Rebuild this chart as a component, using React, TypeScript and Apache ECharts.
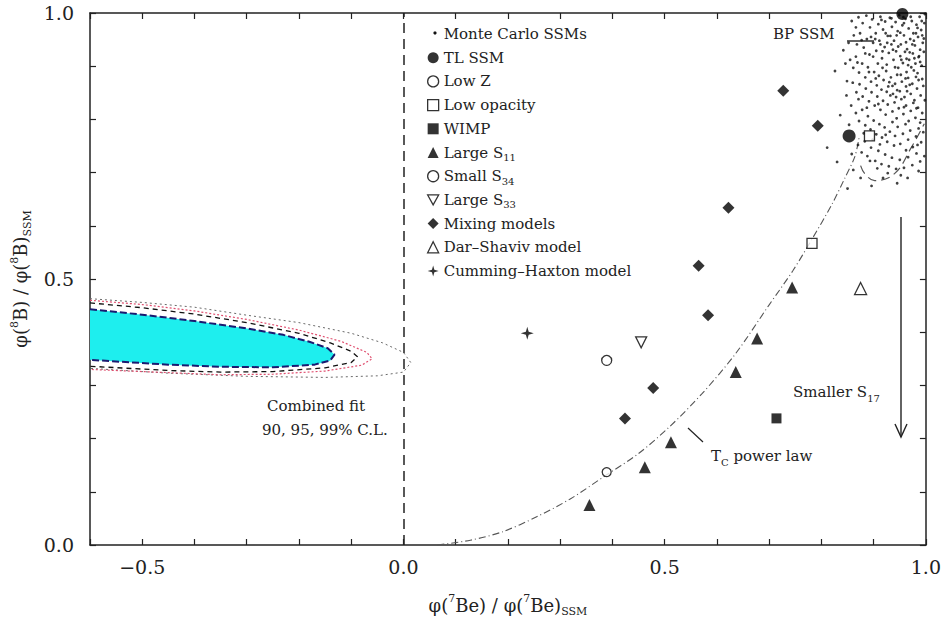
import React, { useEffect, useRef } from "react";
import * as echarts from "echarts";

// ---------- data ----------
const xTickLabels = ["−0.5", "0.0", "0.5", "1.0"];
const yTickLabels = ["0.0", "0.5", "1.0"];

const monteCarlo: number[][] = [
  [0.871,0.992],[0.879,0.981],[0.886,0.995],[0.893,0.973],[0.897,0.988],[0.904,0.962],[0.909,0.979],[0.913,0.993],[0.918,0.969],[0.922,0.984],[0.927,0.957],[0.931,0.991],[0.935,0.974],[0.939,0.948],[0.942,0.983],[0.946,0.966],[0.949,0.996],[0.952,0.941],[0.955,0.977],[0.958,0.958],[0.961,0.989],[0.964,0.932],[0.967,0.971],[0.97,0.951],[0.973,0.985],[0.976,0.962],[0.979,0.939],[0.982,0.978],[0.985,0.955],[0.988,0.993],[0.991,0.968],[0.994,0.944],[0.997,0.981],
  [0.862,0.958],[0.868,0.941],[0.874,0.962],[0.881,0.935],[0.887,0.951],[0.892,0.922],[0.899,0.944],[0.905,0.929],[0.911,0.948],[0.916,0.915],[0.921,0.936],[0.925,0.903],[0.929,0.925],[0.934,0.941],[0.938,0.912],[0.943,0.928],[0.947,0.897],[0.951,0.919],[0.956,0.906],[0.96,0.927],[0.963,0.889],[0.968,0.912],[0.972,0.898],[0.975,0.924],[0.98,0.905],[0.984,0.887],[0.987,0.919],[0.992,0.901],[0.996,0.927],
  [0.855,0.912],[0.861,0.897],[0.866,0.918],[0.872,0.888],[0.878,0.905],[0.884,0.879],[0.889,0.898],[0.895,0.871],[0.901,0.889],[0.906,0.864],[0.91,0.882],[0.915,0.856],[0.919,0.874],[0.924,0.891],[0.928,0.862],[0.933,0.879],[0.937,0.848],[0.941,0.867],[0.945,0.884],[0.95,0.853],[0.954,0.871],[0.959,0.842],[0.962,0.862],[0.966,0.878],[0.971,0.848],[0.974,0.867],[0.978,0.836],[0.983,0.858],[0.986,0.874],[0.99,0.845],[0.995,0.863],
  [0.86,0.869],[0.867,0.851],[0.873,0.866],[0.879,0.843],[0.885,0.858],[0.891,0.834],[0.896,0.851],[0.902,0.826],[0.907,0.843],[0.913,0.818],[0.918,0.835],[0.923,0.809],[0.927,0.828],[0.932,0.845],[0.936,0.815],[0.94,0.832],[0.944,0.802],[0.948,0.821],[0.953,0.838],[0.957,0.81],[0.962,0.826],[0.967,0.797],[0.971,0.816],[0.976,0.831],[0.98,0.803],[0.985,0.822],[0.989,0.794],[0.993,0.812],
  [0.866,0.812],[0.872,0.797],[0.878,0.818],[0.884,0.789],[0.889,0.806],[0.894,0.781],[0.9,0.798],[0.905,0.772],[0.911,0.791],[0.916,0.766],[0.921,0.785],[0.926,0.758],[0.931,0.777],[0.936,0.795],[0.941,0.769],[0.946,0.786],[0.951,0.754],[0.956,0.773],[0.961,0.791],[0.966,0.762],[0.97,0.779],[0.975,0.748],[0.981,0.768],[0.986,0.783],[0.991,0.757],[0.995,0.776],
  [0.87,0.752],[0.877,0.738],[0.883,0.759],[0.888,0.731],[0.895,0.747],[0.903,0.722],[0.909,0.741],[0.915,0.716],[0.922,0.734],[0.929,0.712],[0.935,0.728],[0.943,0.707],[0.95,0.724],[0.958,0.709],[0.966,0.729],[0.974,0.714],[0.982,0.736],[0.989,0.721],
  [0.826,0.891],[0.811,0.747],[0.83,0.72],[0.85,0.67],[0.842,0.93],[0.848,0.845],[0.853,0.79],[0.858,0.735],[0.875,0.69],[0.896,0.675],[0.918,0.69],[0.945,0.68],[0.836,0.808],[0.861,0.705],
  [0.934,0.99],[0.944,0.958],[0.957,0.992],[0.962,0.945],[0.971,0.993],[0.977,0.948],[0.984,0.972],[0.989,0.931],[0.993,0.958],[0.998,0.998],[0.953,0.912],[0.966,0.902],[0.978,0.915],[0.989,0.908],[0.941,0.898],[0.926,0.944],[0.917,0.928],[0.908,0.905],[0.899,0.918],[0.93,0.87],[0.945,0.855],[0.969,0.865],[0.981,0.88],[0.961,0.877],
  [0.903,0.951],[0.915,0.987],[0.923,0.962],[0.937,0.931],[0.951,0.963],[0.963,0.914],[0.974,0.941],[0.986,0.917],[0.996,0.952],[0.958,0.981],[0.969,0.926],[0.981,0.962],[0.992,0.985],[0.947,0.937],[0.932,0.957],[0.913,0.941],[0.895,0.955],[0.884,0.924],[0.877,0.949],[0.866,0.973],[0.858,0.985],[0.852,0.944],[0.846,0.905],[0.869,0.907],[0.891,0.889],[0.904,0.877],[0.917,0.897],[0.936,0.863],[0.952,0.884],[0.964,0.853],[0.977,0.892],[0.993,0.876],[0.998,0.836],[0.982,0.821],[0.958,0.823],[0.943,0.842],[0.925,0.852],[0.909,0.829],[0.887,0.822],[0.871,0.838],[0.857,0.826],[0.849,0.872],[0.881,0.774],[0.898,0.762],[0.923,0.771],[0.939,0.751],[0.962,0.742],[0.984,0.752],[0.997,0.731],[0.912,0.753],[0.893,0.722],[0.952,0.695],[0.986,0.703],[0.927,0.699],[0.907,0.708],[0.965,0.69],
];
const bpSSM: number[][] = [[0.955, 0.998]];
const tlSSM: number[][] = [[0.853, 0.769]];
const lowZ: number[][] = [[0.389, 0.347]];
const lowOpacity: number[][] = [[0.782, 0.567], [0.892, 0.769]];
const wimp: number[][] = [[0.714, 0.238]];
const largeS11: number[][] = [[0.356, 0.075], [0.462, 0.146], [0.512, 0.193], [0.636, 0.325], [0.677, 0.388], [0.744, 0.484]];
const smallS34: number[][] = [[0.389, 0.137]];
const largeS33: number[][] = [[0.455, 0.381]];
const mixing: number[][] = [[0.424, 0.238], [0.478, 0.295], [0.583, 0.432], [0.565, 0.525], [0.622, 0.634], [0.727, 0.854], [0.793, 0.788]];
const darShaviv: number[][] = [[0.875, 0.482]];
const cummingHaxton: number[][] = [[0.237, 0.398]];

const powerLaw: number[][] = [
  [0.065, 0.0], [0.128, 0.009], [0.19, 0.025], [0.255, 0.053], [0.32, 0.087], [0.383, 0.128], [0.45, 0.172],
  [0.509, 0.222], [0.572, 0.285], [0.636, 0.36], [0.699, 0.45], [0.745, 0.515],
  [0.782, 0.575], [0.82, 0.64], [0.845, 0.69], [0.864, 0.73], [0.872, 0.765],
];
const hookCurve: number[][] = [[0.875, 0.713], [0.883, 0.698], [0.902, 0.685], [0.94, 0.698], [0.972, 0.747], [0.997, 0.792]];

const cl90: number[][] = [[-0.6,0.443],[-0.5,0.433],[-0.4,0.421],[-0.3,0.407],[-0.23,0.395],[-0.18,0.382],[-0.145,0.37],[-0.132,0.358],[-0.14,0.347],[-0.17,0.339],[-0.25,0.334],[-0.35,0.335],[-0.45,0.339],[-0.6,0.348]];
const cl95: number[][] = [[-0.6,0.455],[-0.5,0.446],[-0.4,0.434],[-0.3,0.418],[-0.2,0.398],[-0.14,0.38],[-0.1,0.364],[-0.088,0.354],[-0.1,0.343],[-0.15,0.333],[-0.25,0.326],[-0.35,0.325],[-0.45,0.328],[-0.6,0.336]];
const cl99a: number[][] = [[-0.6,0.46],[-0.5,0.452],[-0.4,0.44],[-0.3,0.424],[-0.2,0.404],[-0.12,0.383],[-0.07,0.362],[-0.06,0.35],[-0.08,0.338],[-0.15,0.327],[-0.25,0.321],[-0.35,0.32],[-0.45,0.324],[-0.6,0.33]];
const cl99: number[][] = [[-0.6,0.463],[-0.5,0.456],[-0.4,0.447],[-0.3,0.432],[-0.2,0.418],[-0.1,0.398],[-0.04,0.38],[0.0,0.362],[0.014,0.343],[0.0,0.325],[-0.05,0.318],[-0.15,0.315],[-0.3,0.317],[-0.45,0.323],[-0.6,0.332]];

const FONT = "DejaVu Serif";
const STAR = "path://M0,-6 L1.3,-1.3 L6,0 L1.3,1.3 L0,6 L-1.3,1.3 L-6,0 L-1.3,-1.3 Z";
const DOWN_TRI = "path://M0,0 L10,0 L5,9 Z";

const legendNames = [
  "Monte Carlo SSMs", "TL SSM", "Low Z", "Low opacity", "WIMP", "Large S11",
  "Small S34", "Large S33", "Mixing models", "Dar–Shaviv model", "Cumming–Haxton model",
];
const legendRich: Record<string, string> = {
  "Large S11": "Large S{sub|11}",
  "Small S34": "Small S{sub|34}",
  "Large S33": "Large S{sub|33}",
};

function tickFmt(labels: string[]) {
  return (v: number) => {
    const r = Math.round(v * 10);
    if (r % 5 !== 0) return "";
    const s = (Math.abs(r) / 10).toFixed(1);
    const lab = r < 0 ? "−" + s : s;
    return labels.includes(lab) ? lab : "";
  };
}

export default function App() {
  const ref = useRef<HTMLDivElement>(null);
  useEffect(() => {
    if (!ref.current) return;
    const chart = echarts.init(ref.current, undefined, { renderer: "svg" });
    const open = { color: "#fff", borderColor: "#000", borderWidth: 1.3 };
    const filled = { color: "#000" };
    const axisCommon = {
      type: "value",
      axisLine: { show: true, onZero: false, lineStyle: { color: "#222", width: 1.5 } },
      axisTick: { show: true, inside: true, length: 6, lineStyle: { color: "#222", width: 1.2 } },
      splitLine: { show: false },
    };
    const sc = (name: string, data: number[][], symbol: string, size: number, style: any, z = 5) => ({
      type: "scatter", name, data, symbol, symbolSize: size, itemStyle: style, z,
      xAxisIndex: 0, yAxisIndex: 0, silent: true,
    });
    const ln = (name: string, data: number[][], color: string, type: any, width: number, z = 3, smooth: any = false) => ({
      type: "line", name, data, showSymbol: false, symbol: "none", smooth,
      lineStyle: { color, type, width }, z, silent: true, xAxisIndex: 0, yAxisIndex: 0,
    });
    const legendStyles: Record<string, any> = {
      "Monte Carlo SSMs": { icon: "circle", itemStyle: { color: "rgba(0,0,0,0)", borderWidth: 0 } },
      "TL SSM": { icon: "circle", itemStyle: filled },
      "Low Z": { icon: "circle", itemStyle: open },
      "Low opacity": { icon: "rect", itemStyle: open },
      "WIMP": { icon: "rect", itemStyle: filled },
      "Large S11": { icon: "triangle", itemStyle: filled },
      "Small S34": { icon: "circle", itemStyle: open },
      "Large S33": { icon: DOWN_TRI, itemStyle: open },
      "Mixing models": { icon: "diamond", itemStyle: filled },
      "Dar–Shaviv model": { icon: "triangle", itemStyle: open },
      "Cumming–Haxton model": { icon: STAR, itemStyle: filled },
    };
    const nameRich = {
      sup: { fontSize: 11, fontFamily: FONT, verticalAlign: "top", lineHeight: 24, color: "#222" },
      sub: { fontSize: 11, fontFamily: FONT, verticalAlign: "bottom", lineHeight: 24, color: "#222" },
    };
    const option: any = {
      animation: false,
      backgroundColor: "#fff",
      textStyle: { fontFamily: FONT },
      grid: { left: 90, right: 14, top: 13, bottom: 77 },
      xAxis: [
        {
          ...axisCommon, position: "bottom", min: -0.6, max: 1.0, interval: 0.1,
          axisLabel: { formatter: tickFmt(xTickLabels), fontSize: 19, color: "#222", fontFamily: FONT, margin: 12 },
          name: "φ({sup|7}Be) / φ({sup|7}Be){sub|SSM}",
          nameLocation: "middle", nameGap: 48,
          nameTextStyle: { fontSize: 18, color: "#222", fontFamily: FONT, lineHeight: 24, rich: nameRich },
        },
        { ...axisCommon, position: "top", min: -0.6, max: 1.0, interval: 0.1, axisLabel: { show: false } },
      ],
      yAxis: [
        {
          ...axisCommon, position: "left", min: 0, max: 1, interval: 0.1,
          axisLabel: { formatter: tickFmt(yTickLabels), fontSize: 19, color: "#222", fontFamily: FONT, margin: 16 },
          name: "φ({sup|8}B) / φ({sup|8}B){sub|SSM}",
          nameLocation: "middle", nameGap: 54, nameRotate: 90,
          nameTextStyle: { fontSize: 18, color: "#222", fontFamily: FONT, lineHeight: 24, rich: nameRich },
        },
        { ...axisCommon, position: "right", min: 0, max: 1, interval: 0.1, axisLabel: { show: false } },
      ],
      legend: {
        orient: "vertical", left: 422, top: 19, itemWidth: 11, itemHeight: 11, itemGap: 3.7,
        data: legendNames.map((n) => ({ name: n, ...legendStyles[n] })),
        formatter: (n: string) => legendRich[n] || n,
        textStyle: {
          fontFamily: FONT, fontSize: 15, color: "#222", lineHeight: 20,
          rich: { sub: { fontSize: 10, fontFamily: FONT, verticalAlign: "bottom", lineHeight: 20, color: "#222" } },
        },
        selectedMode: false,
      },
      series: [
        {
          type: "custom", name: "cl90fill", coordinateSystem: "cartesian2d", data: cl90, z: 1, silent: true,
          renderItem: (params: any, api: any) => {
            if (params.dataIndex !== 0) return null;
            return {
              type: "polygon",
              shape: { points: cl90.map((p) => api.coord(p)) },
              style: { fill: "#1eeeee", stroke: "none" },
            };
          },
        },
        ln("cl99", cl99, "#6a6a6a", [2, 3], 1),
        ln("cl99a", cl99a, "#e05070", [2, 2], 1.2),
        ln("cl95", cl95, "#111", [5, 4], 1.3),
        ln("cl90", cl90, "#1a1a70", [7, 3], 2),
        {
          ...ln("powerLaw", powerLaw, "#555", [7, 3, 1, 3], 1.1, 3, 0.3),
          markLine: {
            silent: true, symbol: ["none", "none"], label: { show: false },
            lineStyle: { color: "#222", type: [10, 6], width: 1.5 },
            data: [{ xAxis: 0 }],
          },
        },
        ln("hook", hookCurve, "#555", [9, 5], 1.2, 3, 0.4),
        sc("Monte Carlo SSMs", monteCarlo, "circle", 2.8, { color: "#111" }, 4),
        sc("BP SSM", bpSSM, "circle", 12, filled),
        sc("TL SSM", tlSSM, "circle", 13, filled),
        sc("Low Z", lowZ, "circle", 10, open),
        sc("Low opacity", lowOpacity, "rect", 10, open),
        sc("WIMP", wimp, "rect", 10, filled),
        sc("Large S11", largeS11, "triangle", 12, filled),
        sc("Small S34", smallS34, "circle", 9, open),
        sc("Large S33", largeS33, DOWN_TRI, 11, open),
        sc("Mixing models", mixing, "diamond", 12, filled),
        sc("Dar–Shaviv model", darShaviv, "triangle", 12, open),
        sc("Cumming–Haxton model", cummingHaxton, STAR, 13, filled),
      ],
      graphic: [
        { type: "circle", shape: { cx: 435, cy: 33, r: 1.6 }, style: { fill: "#111" }, z: 10 },
        { type: "text", left: 267, top: 398, style: { text: "Combined fit", font: `15px "${FONT}"`, fill: "#222" } },
        { type: "text", left: 262, top: 422, style: { text: "90, 95, 99% C.L.", font: `15px "${FONT}"`, fill: "#222" } },
        { type: "text", left: 773, top: 26, style: { text: "BP SSM", font: `15px "${FONT}"`, fill: "#222" } },
        { type: "line", shape: { x1: 847, y1: 41, x2: 874, y2: 41 }, style: { stroke: "#222", lineWidth: 1.4 } },
        {
          type: "text", left: 711, top: 445,
          style: {
            text: "T{sub|C} power law", font: `15px "${FONT}"`, fill: "#222", lineHeight: 22,
            rich: { sub: { fontSize: 10, fontFamily: FONT, verticalAlign: "bottom", lineHeight: 22, fill: "#222" } },
          },
        },
        { type: "line", shape: { x1: 688, y1: 428, x2: 703, y2: 442 }, style: { stroke: "#222", lineWidth: 1.2 } },
        {
          type: "text", left: 793, top: 381,
          style: {
            text: "Smaller S{sub|17}", font: `15px "${FONT}"`, fill: "#222", lineHeight: 22,
            rich: { sub: { fontSize: 10, fontFamily: FONT, verticalAlign: "bottom", lineHeight: 22, fill: "#222" } },
          },
        },
        { type: "line", shape: { x1: 901, y1: 217, x2: 901, y2: 437 }, style: { stroke: "#222", lineWidth: 1.4 } },
        { type: "polyline", shape: { points: [[895, 424], [901, 437], [907, 424]] }, style: { stroke: "#222", lineWidth: 1.4, fill: "none" } },
      ],
    };
    chart.setOption(option);
    return () => chart.dispose();
  }, []);
  return <div ref={ref} style={{ position: "fixed", left: 0, top: 0, width: 944, height: 622 }} />;
}
